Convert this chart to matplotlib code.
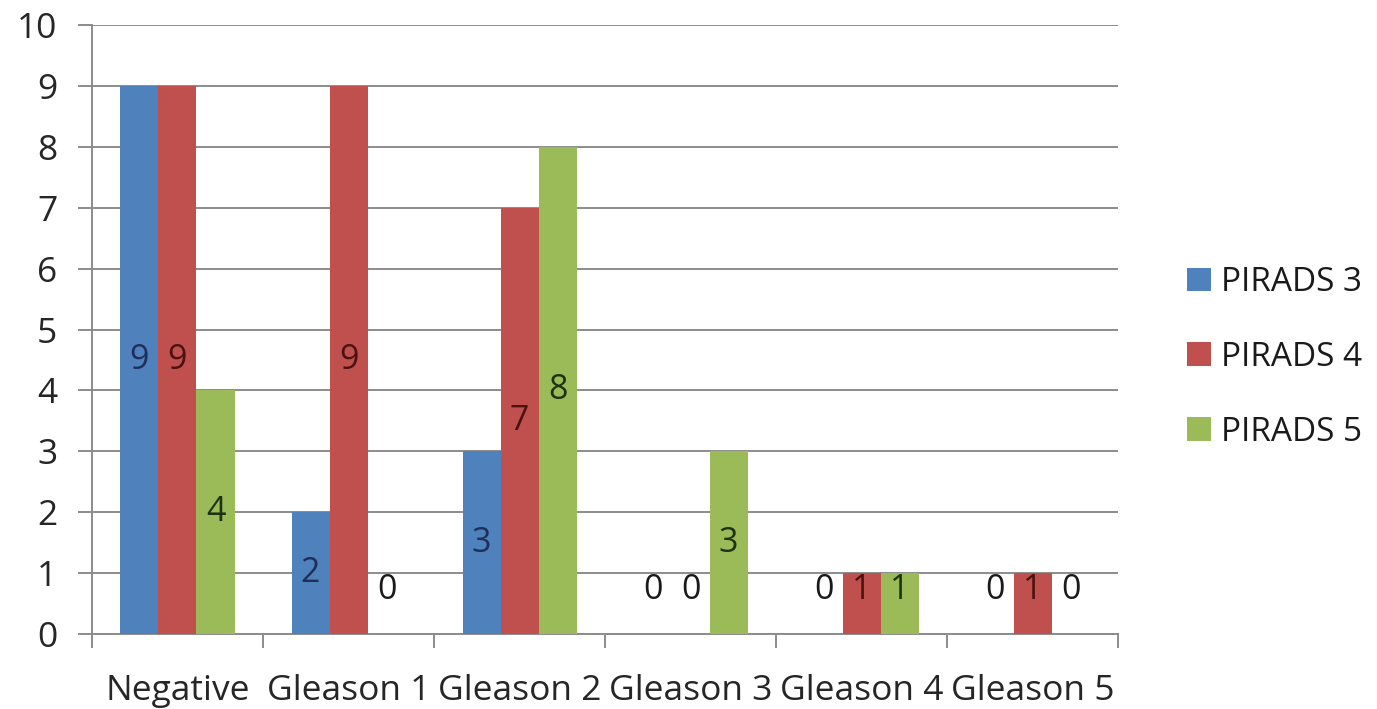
import matplotlib
matplotlib.use("Agg")
import matplotlib.pyplot as plt
import numpy as np

categories = ["Negative", "Gleason 1", "Gleason 2", "Gleason 3", "Gleason 4", "Gleason 5"]
series_names = ["PIRADS 3", "PIRADS 4", "PIRADS 5"]
pirads3 = [9, 2, 3, 0, 0, 0]
pirads4 = [9, 9, 7, 0, 1, 1]
pirads5 = [4, 0, 8, 3, 1, 0]
y_ticks = list(range(0, 11))

bar_colors = ["#4F81BD", "#C0504D", "#9BBB59"]
label_colors = ["#1F2F5A", "#4A1212", "#1E3312"]
grid_color = "#8C8C8C"

plt.rcParams["font.family"] = ["Open Sans", "DejaVu Sans"]

fig = plt.figure(figsize=(13.77, 7.09), dpi=100)
ax = fig.add_axes([0.0668, 0.1058, 0.8120 - 0.0668, 0.9647 - 0.1058])

x = np.arange(len(categories))
bar_w = 1 / 4.5
values = [pirads3, pirads4, pirads5]
bars = []
for i, (vals, col) in enumerate(zip(values, bar_colors)):
    offs = (i - 1) * bar_w
    b = ax.bar(x + offs, vals, width=bar_w, color=col, zorder=3,
               label=series_names[i])
    bars.append(b)
    for xi, v in zip(x, vals):
        ypos = max(v / 2, 0.72)
        tc = label_colors[i] if v > 0 else "#1a1a1a"
        ax.text(xi + offs, ypos, str(v), ha="center", va="center",
                fontsize=24.5, color=tc, zorder=4)

ax.set_xlim(-0.5, len(categories) - 0.5)
ax.set_ylim(0, 10)
ax.set_yticks(y_ticks)
ax.set_yticklabels([str(t) for t in y_ticks])
ax.yaxis.grid(True, color=grid_color, linewidth=1.4, zorder=0)
ax.set_axisbelow(True)

ax.set_xticks(x)
ax.set_xticklabels(categories)
ax.set_xticks(np.arange(len(categories) + 1) - 0.5, minor=True)
ax.tick_params(axis="x", which="major", length=0, pad=29, labelsize=25.5,
               labelcolor="#262626")
ax.tick_params(axis="x", which="minor", length=10, width=1.4,
               color=grid_color)
ax.tick_params(axis="y", length=10, width=1.4, color=grid_color, pad=15,
               labelsize=25.5, labelcolor="#262626")

for s in ["top", "right"]:
    ax.spines[s].set_visible(False)
for s in ["left", "bottom"]:
    ax.spines[s].set_color(grid_color)
    ax.spines[s].set_linewidth(1.4)

leg = fig.legend(handles=bars, labels=series_names,
                 loc="center left", bbox_to_anchor=(0.84, 0.496),
                 frameon=False, fontsize=24, handlelength=0.72,
                 handleheight=0.72, handletextpad=0.3, labelspacing=1.25,
                 labelcolor="#1a1a1a")

fig.savefig("out.png", dpi=100, facecolor="white")
